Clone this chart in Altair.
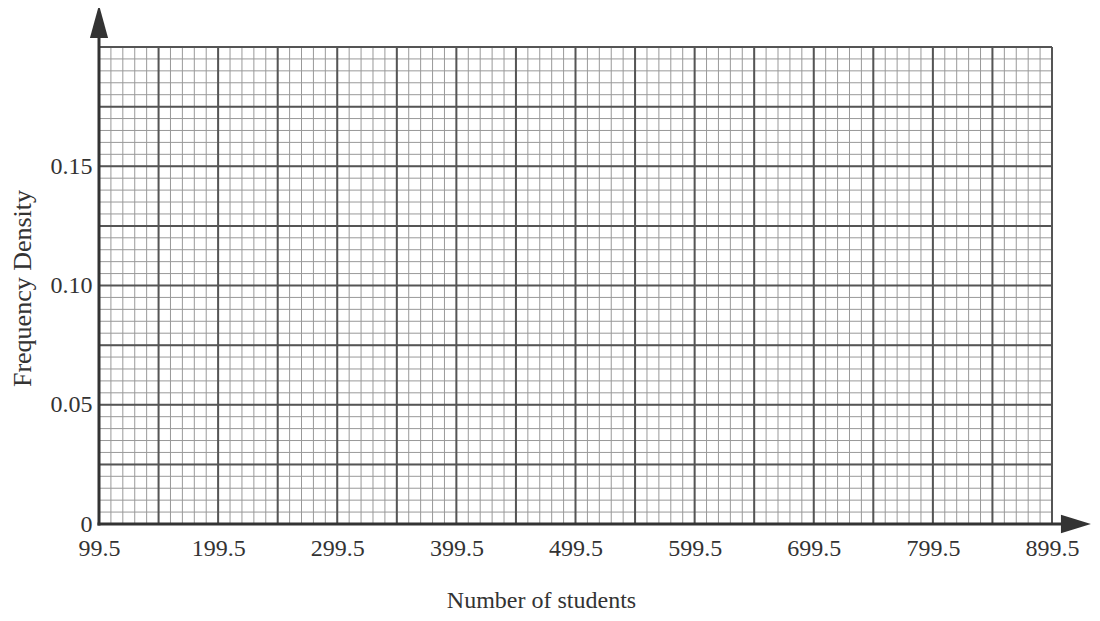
import altair as alt
import pandas as pd

# Axis ranges and tick labels
x_min, x_max = 99.5, 899.5
y_min, y_max = 0.0, 0.2
x_labels = [99.5, 199.5, 299.5, 399.5, 499.5, 599.5, 699.5, 799.5, 899.5]
y_labels = [0.0, 0.05, 0.10, 0.15]
x_major_step, x_minor_step = 50, 10
y_major_step, y_minor_step = 0.025, 0.005

x_minor = [x_min + i * x_minor_step for i in range(int((x_max - x_min) / x_minor_step) + 1)]
x_major = [x_min + i * x_major_step for i in range(int((x_max - x_min) / x_major_step) + 1)]
y_minor = [round(i * y_minor_step, 4) for i in range(int(round(y_max / y_minor_step)) + 1)]
y_major = [round(i * y_major_step, 4) for i in range(int(round(y_max / y_major_step)) + 1)]

# Axis arrow extents (data units, beyond the grid)
x_arrow_end = 919.6
y_arrow_end = 0.2107

W, H = 953, 477
FONT = "Liberation Serif"
TXT = "#333333"

xs = alt.Scale(domain=[x_min, x_max], nice=False, zero=False)
ys = alt.Scale(domain=[y_min, y_max], nice=False, zero=False)

x_axis = alt.Axis(values=x_labels, format=".1f", domain=False, ticks=False, grid=False,
                  labelFont=FONT, labelFontSize=24, labelColor=TXT, labelPadding=12,
                  labelFlush=False, labelOverlap=False,
                  title="Number of students", titleFont=FONT, titleFontSize=24,
                  titleFontWeight="normal", titleColor=TXT,
                  titleX=442, titleY=83, titleAnchor="start", titleAlign="center",
                  titleBaseline="alphabetic")
y_axis = alt.Axis(values=y_labels, labelExpr="datum.value == 0 ? '0' : format(datum.value, '.2f')",
                  domain=False, ticks=False, grid=False,
                  labelFont=FONT, labelFontSize=24, labelColor=TXT, labelPadding=7,
                  labelFlush=False, labelOverlap=False,
                  title="Frequency Density", titleFont=FONT, titleFontSize=26,
                  titleFontWeight="normal", titleColor=TXT,
                  titleX=-77, titleY=241, titleAngle=270, titleAlign="center",
                  titleBaseline="middle")

X = lambda f: alt.X(f, scale=xs, axis=x_axis)
Y = lambda f: alt.Y(f, scale=ys, axis=y_axis)

vminor = alt.Chart(pd.DataFrame({"x": x_minor})).mark_rule(color="#999999", strokeWidth=1).encode(
    x=X("x:Q"))
hminor = alt.Chart(pd.DataFrame({"y": y_minor})).mark_rule(color="#999999", strokeWidth=1).encode(
    y=Y("y:Q"))
vmajor = alt.Chart(pd.DataFrame({"x": x_major})).mark_rule(color="#555555", strokeWidth=2).encode(
    x=X("x:Q"))
hmajor = alt.Chart(pd.DataFrame({"y": y_major})).mark_rule(color="#555555", strokeWidth=2).encode(
    y=Y("y:Q"))

yaxis_line = alt.Chart(pd.DataFrame({"x": [x_min], "y": [y_min], "y2": [y_arrow_end]})).mark_rule(
    color="#333333", strokeWidth=3, strokeCap="square").encode(
    x=X("x:Q"), y=Y("y:Q"), y2="y2:Q")
xaxis_line = alt.Chart(pd.DataFrame({"x": [x_min], "x2": [x_arrow_end], "y": [y_min]})).mark_rule(
    color="#333333", strokeWidth=3, strokeCap="square").encode(
    x=X("x:Q"), x2="x2:Q", y=Y("y:Q"))

up_arrow = alt.Chart(pd.DataFrame({"x": [x_min], "y": [y_arrow_end]})).mark_point(
    shape="M0,-1L0.55,1L-0.55,1Z", filled=True, color="#333333", opacity=1, size=1089).encode(
    x=X("x:Q"), y=Y("y:Q"))
right_arrow = alt.Chart(pd.DataFrame({"x": [x_arrow_end], "y": [y_min]})).mark_point(
    shape="M1,0L-1,0.62L-1,-0.62Z", filled=True, color="#333333", opacity=1, size=900).encode(
    x=X("x:Q"), y=Y("y:Q"))

chart = alt.layer(vminor, hminor, vmajor, hmajor, yaxis_line, xaxis_line, up_arrow, right_arrow).properties(
    width=W, height=H,
    autosize=alt.AutoSizeParams(type="none"),
    padding={"left": 91, "top": 39, "right": 40, "bottom": 89},
    background="white",
).configure_view(stroke=None)

chart.save("out.html", embed_options={"renderer": "svg", "actions": False})
